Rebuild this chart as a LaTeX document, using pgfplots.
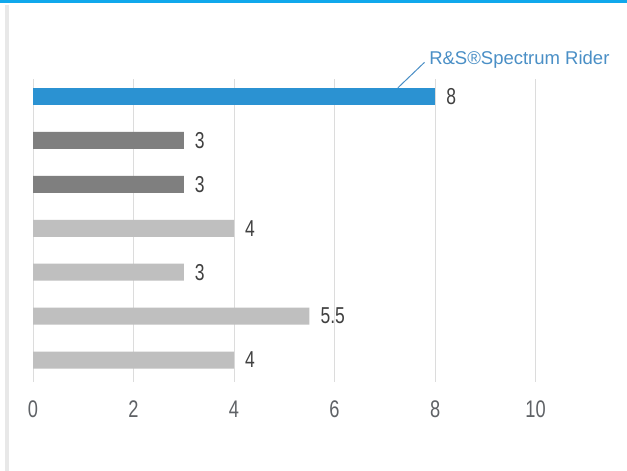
\documentclass[border=0pt]{standalone}
\usepackage{fontspec}
\setmainfont{Liberation Sans}
\newfontfamily\narrowfont[FakeStretch=0.76]{Liberation Sans}
\newfontfamily\annfont[FakeStretch=1.0]{Liberation Sans}
\usepackage{pgfplots}
\pgfplotsset{compat=1.18}
\definecolor{barblue}{HTML}{2B92D2}
\definecolor{bardark}{HTML}{7F7F7F}
\definecolor{barlight}{HTML}{BFBFBF}
\definecolor{gridgray}{HTML}{DCDCDC}
\definecolor{ticktext}{HTML}{5F6266}
\definecolor{valtext}{HTML}{404040}
\definecolor{anncolor}{HTML}{4A8FC6}
\definecolor{topline}{HTML}{10A8EC}
\definecolor{leftgray}{HTML}{E8E8E8}
\begin{document}
\begin{tikzpicture}[x=1pt,y=1pt]
\path[use as bounding box] (0,0) rectangle (627,471);
\fill[white] (0,0) rectangle (627,471);
\fill[topline] (0,468) rectangle (627,471);
\fill[leftgray] (5,0) rectangle (9,466);
\begin{axis}[
  at={(33pt,89pt)}, anchor=south west,
  scale only axis, width=578pt, height=303pt,
  xmin=0, xmax=11.5, ymin=-0.5, ymax=6.4,
  xbar, bar width=17pt, bar shift=0pt,
  axis line style={draw=none},
  ytick=\empty,
  xtick={0,2,...,10},
  major tick length=0pt,
  xmajorgrids,
  grid style={color=gridgray, line width=1pt},
  clip=false,
  /pgf/number format/assume math mode=true,
  xticklabel style={font=\narrowfont\fontsize{24}{24}\selectfont, text=ticktext, yshift=-15pt},
  nodes near coords,
  every node near coord/.append style={font=\narrowfont\fontsize{23}{23}\selectfont, text=valtext, anchor=west, inner sep=0pt, xshift=11pt},
]
\addplot[fill=barblue, draw=none] coordinates {(8,6)};
\addplot[fill=bardark, draw=none] coordinates {(3,5) (3,4)};
\addplot[fill=barlight, draw=none] coordinates {(4,3) (3,2) (5.5,1) (4,0)};
\draw[anncolor, line width=1pt] (axis cs:7.26,6.2) -- (axis cs:7.79,6.78);
\node[anchor=west, inner sep=0pt, text=anncolor, font=\annfont\fontsize{18.5}{18.5}\selectfont] at (axis cs:7.88,6.84) {R\&S®Spectrum Rider};
\end{axis}
\end{tikzpicture}
\end{document}
